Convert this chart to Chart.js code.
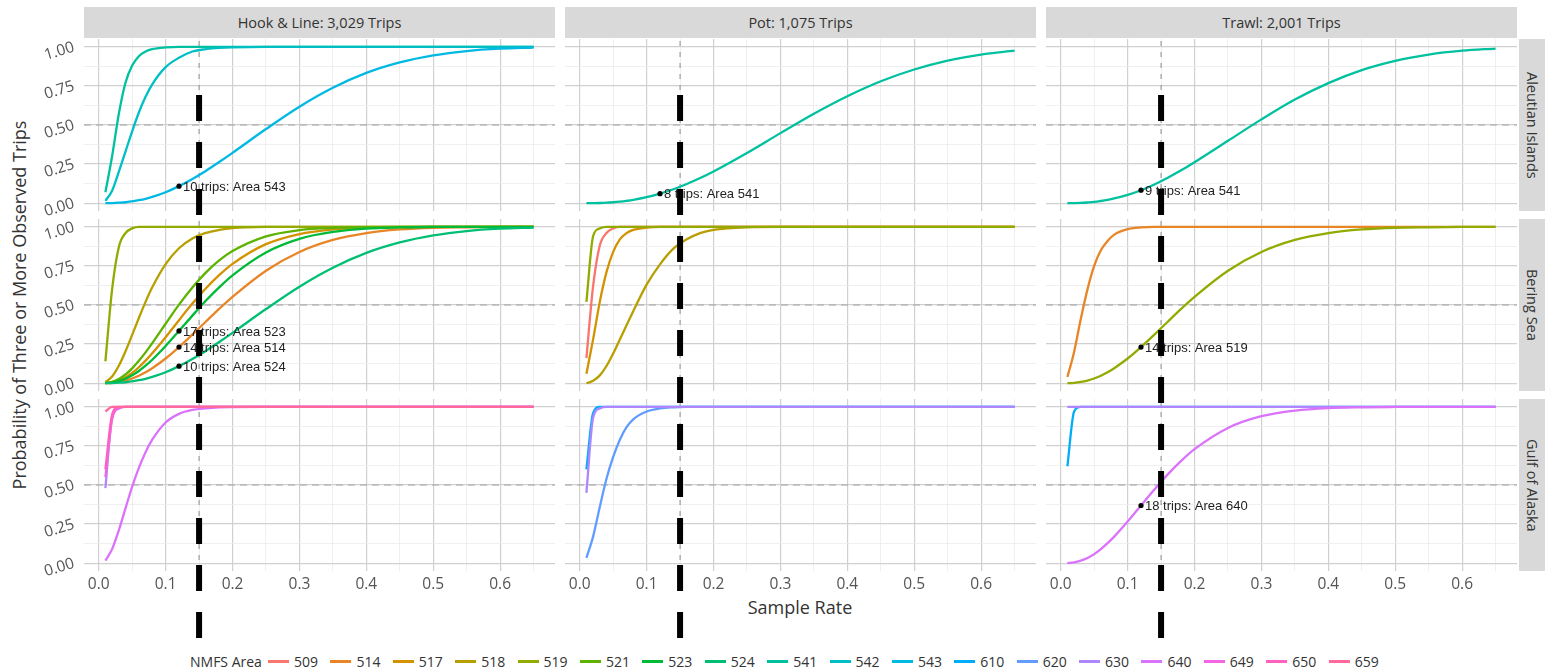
<!DOCTYPE html>
<html>
<head>
<meta charset="utf-8">
<script src="https://cdn.jsdelivr.net/npm/chart.js@4.4.1/dist/chart.umd.min.js"></script>
<style>
  body { margin: 0; width: 1545px; height: 672px; overflow: hidden; position: relative; background: #fff; font-family: "Open Sans", sans-serif; color: #333; }
  canvas { position: absolute; }
  .strip { position: absolute; background: #d9d9d9; color: #333; font-size: 14.5px; display: flex; align-items: center; justify-content: center; white-space: nowrap; }
  .rstrip { writing-mode: vertical-rl; }
  .ytitle { position: absolute; left: 19px; top: 305px; width: 500px; text-align: center; font-size: 18px; transform: translate(-50%, -50%) rotate(-90deg); white-space: nowrap; }
  .xtitle { position: absolute; left: 800px; top: 607px; transform: translate(-50%, -50%); font-size: 18px; white-space: nowrap; }
  #legend { position: absolute; left: 190px; top: 651px; height: 20px; display: flex; align-items: center; font-size: 14px; white-space: nowrap; }
  #legend .ttl { width: 78px; }
  #legend .item { width: 62.4px; display: flex; align-items: center; }
  #legend .key { width: 21px; height: 3px; margin-right: 5px; }
</style>
</head>
<body>
<div class="ytitle">Probability of Three or More Observed Trips</div>
<div class="xtitle">Sample Rate</div>
<div id="legend"></div>
<canvas id="overlay" width="1545" height="672" style="left:0;top:0;z-index:5;pointer-events:none"></canvas>
<script>
// values
const SAMPLE_RATE = [0.01, 0.02, 0.03, 0.04, 0.05, 0.06, 0.07, 0.08, 0.10, 0.12, 0.14, 0.16, 0.18, 0.20, 0.25, 0.30, 0.35, 0.40, 0.45, 0.50, 0.55, 0.60, 0.65];

const GEARS = ['Hook & Line: 3,029 Trips', 'Pot: 1,075 Trips', 'Trawl: 2,001 Trips'];
const REGIONS = ['Aleutian Islands', 'Bering Sea', 'Gulf of Alaska'];
const AREAS = ['509', '514', '517', '518', '519', '521', '523', '524', '541', '542', '543', '610', '620', '630', '640', '649', '650', '659'];
const AREA_COLORS = ['#F8766D', '#E88526', '#D39200', '#B79F00', '#93AA00', '#5EB300', '#00BA38', '#00BF74', '#00C19F', '#00BFC4', '#00B9E3', '#00ADFA', '#619CFF', '#AE87FF', '#DB72FB', '#F564E3', '#FF61C3', '#FF699C'];

const X_GRID = [0, 0.05, 0.1, 0.15, 0.2, 0.25, 0.3, 0.35, 0.4, 0.45, 0.5, 0.55, 0.6, 0.65];
const Y_GRID = [0, 0.125, 0.25, 0.375, 0.5, 0.625, 0.75, 0.875, 1];
const X_MIN = -0.022, X_MAX = 0.682, Y_MIN = -0.05, Y_MAX = 1.05;
const REF_PROB = 0.5;      // dashed horizontal line
const QUOTA_RATE = 0.15;   // dashed vertical line
const NOTE_RATE = 0.12;    // where the trip labels sit

// Aleutian Islands
const AI_HL_541 = [0.07, 0.30, 0.57, 0.77, 0.88, 0.94, 0.97, 0.985, 0.996, 1, 1, 1, 1, 1, 1, 1, 1, 1, 1, 1, 1, 1, 1];
const AI_HL_542 = [0.015, 0.08, 0.20, 0.33, 0.46, 0.58, 0.68, 0.76, 0.87, 0.93, 0.97, 0.985, 0.993, 0.997, 1, 1, 1, 1, 1, 1, 1, 1, 1];
const AI_HL_543 = [0, 0.001, 0.003, 0.006, 0.012, 0.019, 0.028, 0.040, 0.070, 0.109, 0.155, 0.206, 0.263, 0.322, 0.474, 0.617, 0.738, 0.833, 0.900, 0.945, 0.973, 0.988, 0.995];
const AI_POT_541 = [0, 0.0005, 0.0013, 0.003, 0.006, 0.010, 0.015, 0.021, 0.038, 0.061, 0.089, 0.123, 0.161, 0.203, 0.321, 0.448, 0.572, 0.684, 0.780, 0.855, 0.912, 0.950, 0.975];
const AI_TRW_541 = [0, 0.0006, 0.002, 0.0045, 0.008, 0.014, 0.021, 0.030, 0.053, 0.083, 0.120, 0.163, 0.210, 0.262, 0.399, 0.536, 0.663, 0.768, 0.851, 0.910, 0.950, 0.975, 0.989];

// Bering Sea
const BS_HL_514 = [0, 0.0025, 0.008, 0.017, 0.030, 0.048, 0.070, 0.096, 0.158, 0.231, 0.311, 0.393, 0.475, 0.552, 0.719, 0.839, 0.916, 0.960, 0.983, 0.994, 0.997, 0.999, 1];
const BS_HL_517 = [0.001, 0.006, 0.018, 0.038, 0.066, 0.102, 0.144, 0.191, 0.294, 0.403, 0.509, 0.606, 0.691, 0.763, 0.889, 0.954, 0.983, 0.995, 0.998, 1, 1, 1, 1];
const BS_HL_518 = [0.007, 0.043, 0.111, 0.204, 0.309, 0.417, 0.520, 0.613, 0.762, 0.863, 0.925, 0.961, 0.980, 0.991, 0.999, 1, 1, 1, 1, 1, 1, 1, 1];
const BS_HL_519 = [0.14, 0.60, 0.87, 0.96, 0.99, 1, 1, 1, 1, 1, 1, 1, 1, 1, 1, 1, 1, 1, 1, 1, 1, 1, 1];
const BS_HL_521 = [0.001, 0.009, 0.027, 0.056, 0.095, 0.143, 0.197, 0.256, 0.380, 0.502, 0.612, 0.707, 0.785, 0.845, 0.939, 0.979, 0.994, 0.998, 1, 1, 1, 1, 1];
const BS_HL_523 = [0.001, 0.004, 0.013, 0.029, 0.050, 0.078, 0.112, 0.150, 0.238, 0.334, 0.432, 0.527, 0.613, 0.690, 0.836, 0.923, 0.967, 0.988, 0.996, 0.999, 1, 1, 1];
const BS_HL_524 = [0, 0.001, 0.003, 0.006, 0.012, 0.019, 0.028, 0.040, 0.070, 0.109, 0.155, 0.206, 0.263, 0.322, 0.474, 0.617, 0.738, 0.833, 0.900, 0.945, 0.973, 0.988, 0.995];
const BS_POT_509 = [0.16, 0.62, 0.88, 0.96, 0.99, 1, 1, 1, 1, 1, 1, 1, 1, 1, 1, 1, 1, 1, 1, 1, 1, 1, 1];
const BS_POT_517 = [0.06, 0.28, 0.52, 0.71, 0.84, 0.92, 0.96, 0.98, 0.995, 1, 1, 1, 1, 1, 1, 1, 1, 1, 1, 1, 1, 1, 1];
const BS_POT_518 = [0, 0.015, 0.05, 0.11, 0.19, 0.28, 0.37, 0.46, 0.63, 0.76, 0.86, 0.92, 0.96, 0.98, 0.997, 1, 1, 1, 1, 1, 1, 1, 1];
const BS_POT_519 = [0.52, 0.94, 0.99, 1, 1, 1, 1, 1, 1, 1, 1, 1, 1, 1, 1, 1, 1, 1, 1, 1, 1, 1, 1];
const BS_TRW_514 = [0.04, 0.20, 0.41, 0.60, 0.75, 0.85, 0.91, 0.95, 0.985, 0.996, 1, 1, 1, 1, 1, 1, 1, 1, 1, 1, 1, 1, 1];
const BS_TRW_519 = [0, 0.0025, 0.008, 0.017, 0.030, 0.048, 0.070, 0.096, 0.158, 0.231, 0.311, 0.393, 0.475, 0.552, 0.719, 0.839, 0.916, 0.960, 0.983, 0.994, 0.997, 0.999, 1];

// Gulf of Alaska
const GOA_HL_630 = [0.48, 0.93, 0.99, 1, 1, 1, 1, 1, 1, 1, 1, 1, 1, 1, 1, 1, 1, 1, 1, 1, 1, 1, 1];
const GOA_HL_640 = [0.016, 0.09, 0.21, 0.35, 0.49, 0.61, 0.71, 0.79, 0.90, 0.955, 0.98, 0.99, 0.996, 0.998, 1, 1, 1, 1, 1, 1, 1, 1, 1];
const GOA_HL_649 = [0.55, 0.92, 0.99, 1, 1, 1, 1, 1, 1, 1, 1, 1, 1, 1, 1, 1, 1, 1, 1, 1, 1, 1, 1];
const GOA_HL_650 = [0.60, 0.95, 1, 1, 1, 1, 1, 1, 1, 1, 1, 1, 1, 1, 1, 1, 1, 1, 1, 1, 1, 1, 1];
const GOA_HL_659 = [0.97, 1, 1, 1, 1, 1, 1, 1, 1, 1, 1, 1, 1, 1, 1, 1, 1, 1, 1, 1, 1, 1, 1];
const GOA_POT_610 = [0.60, 0.96, 1, 1, 1, 1, 1, 1, 1, 1, 1, 1, 1, 1, 1, 1, 1, 1, 1, 1, 1, 1, 1];
const GOA_POT_620 = [0.034, 0.17, 0.36, 0.54, 0.68, 0.79, 0.87, 0.92, 0.97, 0.99, 0.997, 1, 1, 1, 1, 1, 1, 1, 1, 1, 1, 1, 1];
const GOA_POT_630 = [0.45, 0.93, 0.99, 1, 1, 1, 1, 1, 1, 1, 1, 1, 1, 1, 1, 1, 1, 1, 1, 1, 1, 1, 1];
const GOA_TRW_610 = [0.62, 0.97, 1, 1, 1, 1, 1, 1, 1, 1, 1, 1, 1, 1, 1, 1, 1, 1, 1, 1, 1, 1, 1];
const GOA_TRW_630 = [1, 1, 1, 1, 1, 1, 1, 1, 1, 1, 1, 1, 1, 1, 1, 1, 1, 1, 1, 1, 1, 1, 1];
const GOA_TRW_640 = [0.0007, 0.005, 0.016, 0.033, 0.058, 0.090, 0.128, 0.170, 0.266, 0.369, 0.471, 0.568, 0.654, 0.729, 0.865, 0.940, 0.976, 0.992, 0.997, 0.999, 1, 1, 1];

// panels: [row][col] -> area -> series
const PANEL_SERIES = [
  [{ '541': AI_HL_541, '542': AI_HL_542, '543': AI_HL_543 }, { '541': AI_POT_541 }, { '541': AI_TRW_541 }],
  [{ '514': BS_HL_514, '517': BS_HL_517, '518': BS_HL_518, '519': BS_HL_519, '521': BS_HL_521, '523': BS_HL_523, '524': BS_HL_524 },
   { '509': BS_POT_509, '517': BS_POT_517, '518': BS_POT_518, '519': BS_POT_519 },
   { '514': BS_TRW_514, '519': BS_TRW_519 }],
  [{ '630': GOA_HL_630, '640': GOA_HL_640, '649': GOA_HL_649, '650': GOA_HL_650, '659': GOA_HL_659 },
   { '610': GOA_POT_610, '620': GOA_POT_620, '630': GOA_POT_630 },
   { '610': GOA_TRW_610, '630': GOA_TRW_630, '640': GOA_TRW_640 }]
];
// trip labels: [trips, area]
const PANEL_NOTES = [
  [[[10, '543']], [[8, '541']], [[9, '541']]],
  [[[17, '523'], [14, '514'], [10, '524']], [], [[14, '519']]],
  [[], [], [[18, '640']]]
];

// layout
const COL_LEFT = [84, 565, 1046];
const ROW_TOP = [39, 219, 399];
const PANEL_W = 471, PANEL_H = 172;
const FONT = '"Open Sans", sans-serif';

const isMajorX = v => Math.round(v * 20) % 2 === 0;
const isMajorY = v => Math.round(v * 8) % 2 === 0;

// strips
GEARS.forEach((g, c) => {
  const d = document.createElement('div');
  d.className = 'strip';
  d.style.cssText = `left:${COL_LEFT[c]}px;top:7px;width:${PANEL_W}px;height:31px;`;
  d.textContent = g;
  document.body.appendChild(d);
});
REGIONS.forEach((r, i) => {
  const d = document.createElement('div');
  d.className = 'strip rstrip';
  d.style.cssText = `left:1519px;top:${ROW_TOP[i]}px;width:26px;height:${PANEL_H}px;`;
  d.textContent = r;
  document.body.appendChild(d);
});

// legend
const legend = document.getElementById('legend');
legend.innerHTML = '<span class="ttl">NMFS Area</span>' + AREAS.map((a, i) =>
  `<span class="item"><span class="key" style="background:${AREA_COLORS[i]}"></span>${a}</span>`).join('');

const notesPlugin = {
  id: 'notes',
  afterDatasetsDraw(chart, args, opts) {
    const ctx = chart.ctx;
    ctx.save();
    ctx.font = '13px "Liberation Sans", Arial, sans-serif';
    ctx.fillStyle = '#222';
    ctx.textBaseline = 'middle';
    (opts.items || []).forEach(n => {
      ctx.fillText(n.text, chart.scales.x.getPixelForValue(n.x) + 4, chart.scales.y.getPixelForValue(n.y) + 1);
    });
    ctx.restore();
  }
};

const zeroPad = s => { s.paddingLeft = s.paddingRight = s.paddingTop = s.paddingBottom = 0; };
const bottomCharts = [];
for (let r = 0; r < 3; r++) {
  for (let c = 0; c < 3; c++) {
    const isLeft = c === 0, isBottom = r === 2;
    const xAxisH = isBottom ? 29 : (isLeft ? 8 : 0);
    const cv = document.createElement('canvas');
    const left = isLeft ? 0 : COL_LEFT[c];
    const w = isLeft ? COL_LEFT[0] + PANEL_W : PANEL_W;
    const h = PANEL_H + xAxisH;
    cv.width = w; cv.height = h;
    cv.style.left = left + 'px'; cv.style.top = ROW_TOP[r] + 'px';
    document.body.appendChild(cv);

    const series = PANEL_SERIES[r][c];
    const datasets = [];
    const noteIdx = SAMPLE_RATE.indexOf(NOTE_RATE);
    const notes = PANEL_NOTES[r][c].map(([trips, area]) => ({
      x: NOTE_RATE, y: series[area][noteIdx], text: `${trips} trips: Area ${area}`
    }));
    if (notes.length) {
      datasets.push({ type: 'scatter', data: notes.map(n => ({ x: n.x, y: n.y })), pointRadius: 2.6, backgroundColor: '#000', borderWidth: 0 });
    }
    // later areas on top (chart.js paints first dataset last)
    AREAS.slice().reverse().forEach(a => {
      if (!series[a]) return;
      datasets.push({
        data: SAMPLE_RATE.map((x, i) => ({ x, y: series[a][i] })),
        borderColor: AREA_COLORS[AREAS.indexOf(a)],
        borderWidth: 2.3,
        cubicInterpolationMode: 'monotone',
        pointRadius: 0
      });
    });
    datasets.push({ data: [{ x: X_MIN, y: REF_PROB }, { x: X_MAX, y: REF_PROB }], borderColor: '#a3a3a3', borderWidth: 1.2, borderDash: [7, 5], pointRadius: 0 });
    datasets.push({ data: [{ x: QUOTA_RATE, y: Y_MIN }, { x: QUOTA_RATE, y: Y_MAX }], borderColor: '#8a8a8a', borderWidth: 1, borderDash: [5, 6], pointRadius: 0 });

    const chart = new Chart(cv.getContext('2d'), {
      type: 'line',
      data: { datasets },
      plugins: [notesPlugin],
      options: {
        responsive: false,
        animation: false,
        devicePixelRatio: 1,
        layout: { padding: 0, autoPadding: false },
        plugins: { legend: { display: false }, tooltip: { enabled: false }, notes: { items: notes } },
        scales: {
          x: {
            type: 'linear', min: X_MIN, max: X_MAX,
            afterBuildTicks: s => { s.ticks = X_GRID.map(v => ({ value: v })); },
            afterFit: s => { s.height = xAxisH; zeroPad(s); },
            ticks: {
              display: isBottom, autoSkip: false, maxRotation: 0, padding: 4, color: '#555',
              font: { family: FONT, size: 15.5 },
              callback: v => isMajorX(v) ? v.toFixed(1) : ''
            },
            grid: { drawTicks: false, color: ctx => isMajorX(ctx.tick.value) ? '#d0d0d0' : '#ebebeb', lineWidth: ctx => isMajorX(ctx.tick.value) ? 1.2 : 0.8 },
            border: { display: false }
          },
          y: {
            type: 'linear', min: Y_MIN, max: Y_MAX,
            afterBuildTicks: s => { s.ticks = Y_GRID.map(v => ({ value: v })); },
            afterFit: s => { s.width = isLeft ? COL_LEFT[0] : 0; zeroPad(s); },
            ticks: {
              display: isLeft, autoSkip: false, minRotation: 17, maxRotation: 17, padding: 10, color: '#555',
              font: { family: FONT, size: 15.5 },
              callback: v => isMajorY(v) ? v.toFixed(2) : ''
            },
            grid: { drawTicks: false, color: ctx => isMajorY(ctx.tick.value) ? '#d0d0d0' : '#ebebeb', lineWidth: ctx => isMajorY(ctx.tick.value) ? 1.2 : 0.8 },
            border: { display: false }
          }
        }
      }
    });
    if (isBottom) bottomCharts.push({ chart, left });
  }
}

// thick dashed marker at the 0.15 sample rate, running through all three rows
const g = document.getElementById('overlay').getContext('2d');
g.strokeStyle = '#000';
g.lineWidth = 6;
g.setLineDash([26, 21]);
bottomCharts.forEach(({ chart, left }) => {
  const x = left + chart.scales.x.getPixelForValue(QUOTA_RATE);
  g.beginPath();
  g.moveTo(x, 95);
  g.lineTo(x, 640);
  g.stroke();
});
</script>
</body>
</html>
